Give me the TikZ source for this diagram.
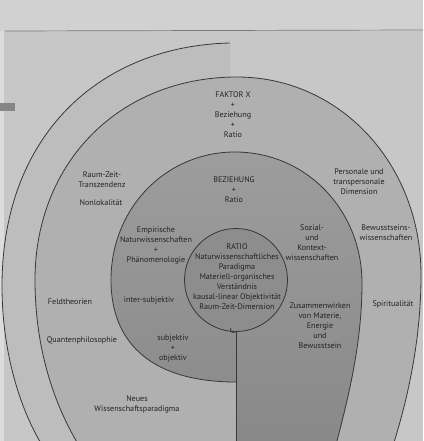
\documentclass[tikz,border=0pt]{standalone}
\usepackage{fontspec}
\setmainfont{PT Sans}
\definecolor{page}{HTML}{C7C7C7}
\definecolor{topstrip}{HTML}{D1D1D1}
\definecolor{leftstrip}{HTML}{DCDCDC}
\definecolor{rulec}{HTML}{7A7A7A}
\definecolor{barc}{HTML}{858585}
\definecolor{bandA}{HTML}{BDBDBD}
\definecolor{ringB}{HTML}{B0B0B0}
\definecolor{midtop}{HTML}{9D9D9D}
\definecolor{midbot}{HTML}{878787}
\definecolor{ratio}{HTML}{8D8D8D}
\definecolor{linec}{HTML}{383838}
\definecolor{txt}{HTML}{222222}
\begin{document}
\begin{tikzpicture}[x=1pt,y=-1pt,
  lbl/.style={align=center,inner sep=0pt,font=\fontsize{8.1}{10}\selectfont,text=txt},
  spiral/.style={draw=linec,line width=0.8pt}]
\useasboundingbox (0,0) rectangle (423,441);
\clip (0,0) rectangle (423,441);
% page
\fill[page] (0,0) rectangle (423,441);
\fill[topstrip] (0,0) rectangle (423,31);
\fill[leftstrip] (0,31) rectangle (4,441);
\draw[rulec,line width=0.7pt] (5,31) -- (423,30);
\fill[barc] (0,103) rectangle (15,111);
% outermost band (left only)
\fill[bandA] (230,43) .. controls (100,46) and (2,135) .. (2,286)
  .. controls (2,360) and (25,430) .. (60,470) -- (230,470) -- cycle;
% ring B
\fill[ringB] (85,455) .. controls (55,410) and (35,350) .. (35,280)
  .. controls (35,162) and (120,77) .. (237,77)
  .. controls (340,77) and (421,164) .. (421,275)
  .. controls (421,340) and (408,400) .. (390,455) -- cycle;
% middle region
\shade[top color=midtop,bottom color=midbot] (236,382) .. controls (155,382) and (111,346) .. (111,280)
  .. controls (111,208) and (166,152) .. (235,152)
  .. controls (306,152) and (362,210) .. (362,283)
  .. controls (362,350) and (345,410) .. (332,460) -- (236,460) -- cycle;
% spiral lines
\draw[spiral] (230,43) .. controls (100,46) and (2,135) .. (2,286)
  .. controls (2,360) and (25,430) .. (60,470);
\draw[spiral] (85,455) .. controls (55,410) and (35,350) .. (35,280)
  .. controls (35,162) and (120,77) .. (237,77)
  .. controls (340,77) and (421,164) .. (421,275)
  .. controls (421,340) and (408,400) .. (390,455);
\draw[spiral] (236,382) .. controls (155,382) and (111,346) .. (111,280)
  .. controls (111,208) and (166,152) .. (235,152)
  .. controls (306,152) and (362,210) .. (362,283)
  .. controls (362,350) and (345,410) .. (332,460);
\draw[spiral,fill=ratio] (236,280) circle[radius=51.5pt];
\draw[spiral] (236,331.5) .. controls (232,334) and (229,331) .. (231,328);
\draw[linec,line width=0.6pt] (236,331.5) -- (236,460);
% labels
\node[lbl] (t1) at (233,115) {FAKTOR X\\+\\Beziehung\\+\\Ratio};
\node[lbl] (t2) at (102,180) {Raum-Zeit-\\Transzendenz};
\node[lbl] (t3) at (101,203) {Nonlokalität};
\node[lbl] (t4) at (359,182) {Personale und\\transpersonale\\Dimension};
\node[lbl] (t5) at (386,233) {Bewusstseins-\\wissenschaften};
\node[lbl] (t6) at (234,189.5) {BEZIEHUNG\\+\\Ratio};
\node[lbl] (t7) at (156,245) {Empirische\\Naturwissenschaften\\+\\Phänomenologie};
\node[lbl] (t8) at (312,243) {Sozial-\\und\\Kontext-\\wissenschaften};
\node[lbl] (t9) at (237,277) {RATIO\\Naturwissenschaftliches\\Paradigma\\Materiell-organisches\\Verständnis\\kausal-linear Objektivität\\Raum-Zeit-Dimension};
\node[lbl] (t10) at (70,302) {Feldtheorien};
\node[lbl] (t11) at (149,300) {inter-subjektiv};
\node[lbl] (t12) at (82,340) {Quantenphilosophie};
\node[lbl] (t13) at (173,348.5) {subjektiv\\+\\objektiv};
\node[lbl] (t14) at (320,326) {Zusammenwirken\\von Materie,\\Energie\\und\\Bewusstsein};
\node[lbl] (t15) at (393,304) {Spiritualität};
\node[lbl] (t16) at (137,404) {Neues\\Wissenschaftsparadigma};
\end{tikzpicture}
\end{document}
